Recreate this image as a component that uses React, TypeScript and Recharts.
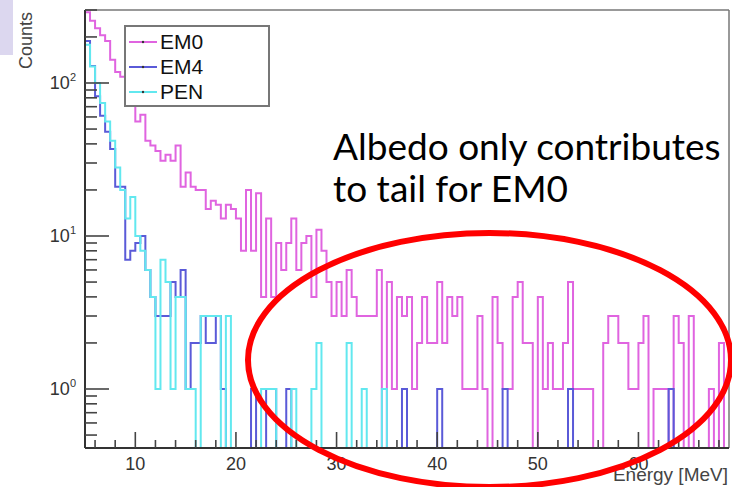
import React from 'react';
import { ComposedChart, Line, XAxis, YAxis, ReferenceLine, Legend } from 'recharts';

const W = 732;
const H = 487;
const X_MIN = 5;
const X_MAX = 69;
const BIN_WIDTH = 0.5;
const Y_MIN = 0.4115;
const Y_MAX = 300;
const FLOOR = 0.05;

// counts per 0.5 MeV bin, starting at 5 MeV
const em0Counts = [
  290, 255, 228, 205, 188, 142, 118, 110, 104, 85,
  56, 62, 42, 39, 36, 31, 34, 31, 39, 21,
  26, 21, 20, 20, 15, 17, 16, 13, 16, 15,
  13, 8, 20, 8, 19, 4, 13, 4, 9, 6,
  9, 13, 6, 9, 10, 4, 11, 8, 5, 3,
  5, 3, 6, 4, 3, 3, 3, 3, 6, 0,
  5, 1, 4, 3, 4, 1, 2, 4, 2, 2,
  5, 2, 4, 3, 4, 1, 1, 1, 3, 1,
  0, 4, 2, 1, 1, 4, 5, 2, 2, 0,
  4, 1, 2, 1, 1, 2, 5, 1, 1, 1,
  1, 0, 0, 2, 3, 3, 2, 2, 1, 1,
  2, 3, 0, 1, 1, 1, 0, 3, 2, 0,
  3, 0, 0, 0, 1, 0, 2, 0,
];

const em4Counts = [
  188, 129, 82, 61, 48, 37, 21, 21, 7, 8,
  9, 10, 6, 4, 3, 3, 3, 5, 4, 6,
  1, 2, 2, 3, 2, 2, 3, 1, 0, 0,
  0, 0, 0, 1, 0, 0, 1, 1, 0, 0,
  1, 0, 0, 0, 0, 0, 0, 0, 0, 0,
  0, 0, 0, 0, 0, 0, 0, 0, 0, 0,
  0, 0, 0, 1, 0, 0, 0, 0, 0, 0,
  1, 0, 0, 0, 0, 0, 0, 0, 0, 0,
  0, 0, 0, 1, 0, 0, 0, 0, 0, 0,
  0, 0, 0, 0, 0, 0, 1, 0, 0, 0,
  0, 0, 0, 0, 0, 0, 0, 0, 0, 0,
  0, 0, 0, 0, 0, 0, 1, 0, 0, 0,
  0, 0, 0, 0, 0, 0, 0, 0,
];

const penCounts = [
  178, 128, 100, 74, 56, 42, 28, 20, 13, 18,
  10, 8, 6, 4, 1, 7, 5, 1, 4, 4,
  1, 1, 0, 3, 3, 3, 3, 0, 3, 0,
  0, 0, 0, 0, 0, 1, 1, 1, 0, 0,
  0, 1, 0, 0, 0, 1, 2, 0, 0, 0,
  0, 0, 2, 0, 0, 1, 0, 0, 0, 1,
  0, 0, 0, 0, 0, 0, 0, 0, 0, 0,
  0, 0, 0, 0, 0, 0, 0, 0, 0, 0,
  0, 0, 0, 0, 0, 0, 0, 0, 0, 0,
  0, 0, 0, 0, 0, 0, 0, 0, 0, 0,
  0, 0, 0, 0, 0, 0, 0, 0, 0, 0,
  0, 0, 0, 0, 0, 0, 0, 0, 0, 0,
  0, 0, 0, 0, 0, 0, 0, 0,
];

const seriesKeys = ['em0', 'em4', 'pen'];
const seriesNames = ['EM0', 'EM4', 'PEN'];
const seriesColors = ['#e064e0', '#5a5ad8', '#62e8ef'];

const xTicks = [6, 8, 10, 12, 14, 16, 18, 20, 22, 24, 26, 28, 30, 32, 34, 36, 38, 40, 42, 44, 46, 48, 50, 52, 54, 56, 58, 60, 62, 64, 66, 68];
const xMajor = [10, 20, 30, 40, 50, 60];
const yTicks = [0.5, 0.6, 0.7, 0.8, 0.9, 1, 2, 3, 4, 5, 6, 7, 8, 9, 10, 20, 30, 40, 50, 60, 70, 80, 90, 100, 200, 300];
const yDecades = [1, 10, 100];
const yExponents = ['0', '1', '2'];

const annotationLines = ['Albedo only contributes', 'to tail for EM0'];
const xTitle = 'Energy [MeV]';
const yTitle = 'Counts';

const AXIS_FONT = '"Liberation Sans", Arial, Helvetica, sans-serif';

const toPlot = (v: number) => (v > 0 ? v : FLOOR);

const rows: any[] = em0Counts.map((_, i) => ({
  x: X_MIN + i * BIN_WIDTH,
  em0: toPlot(em0Counts[i]),
  em4: toPlot(em4Counts[i]),
  pen: toPlot(penCounts[i]),
}));
const lastIdx = em0Counts.length - 1;
rows.push({
  x: X_MAX,
  em0: toPlot(em0Counts[lastIdx]),
  em4: toPlot(em4Counts[lastIdx]),
  pen: toPlot(penCounts[lastIdx]),
});

const XTick = (props: any) => {
  const { x, y, payload } = props;
  const v = payload.value;
  const major = xMajor.includes(v);
  return (
    <g>
      <line x1={x} x2={x} y1={y} y2={y - (major ? 16 : 8)} stroke="#444" strokeWidth={1.6} />
      {major && (
        <text x={x} y={y + 22} textAnchor="middle" fontSize={18} fontFamily={AXIS_FONT} fill="#333">
          {v}
        </text>
      )}
    </g>
  );
};

const YTick = (props: any) => {
  const { x, y, payload } = props;
  const v = payload.value;
  const idx = yDecades.findIndex((d) => Math.abs(d - v) < 1e-9);
  const major = idx >= 0;
  return (
    <g>
      <line x1={x} x2={x + (major ? 24 : 12)} y1={y} y2={y} stroke="#444" strokeWidth={1.6} />
      {major && (
        <text x={x - 9} y={y + 6} textAnchor="end" fontSize={18} fontFamily={AXIS_FONT} fill="#333">
          10
          <tspan dy={-8} fontSize={11}>
            {yExponents[idx]}
          </tspan>
        </text>
      )}
    </g>
  );
};

const LegendBox = () => (
  <div
    style={{
      width: 146,
      height: 82,
      border: '2px solid #777',
      background: '#fff',
      boxSizing: 'border-box',
      position: 'relative',
      fontFamily: AXIS_FONT,
    }}
  >
    {seriesNames.map((n, i) => (
      <div
        key={n}
        style={{ position: 'absolute', left: 3, top: 4 + i * 25, height: 22, display: 'flex', alignItems: 'center' }}
      >
        <svg width={28} height={10} style={{ display: 'block' }}>
          <line x1={0} y1={5} x2={28} y2={5} stroke={seriesColors[i]} strokeWidth={2} />
          <circle cx={14} cy={5} r={1.2} fill="#333" />
        </svg>
        <span style={{ marginLeft: 3, fontSize: 21, color: '#111', lineHeight: '22px' }}>{n}</span>
      </div>
    ))}
  </div>
);

export default function App() {
  return (
    <div style={{ position: 'absolute', left: 0, top: 0, width: W, height: H, background: '#fff', overflow: 'hidden' }}>
      <div style={{ position: 'absolute', left: 0, top: 0, width: 13, height: 55, background: '#dcd7ef' }} />
      <ComposedChart width={W} height={H} data={rows} margin={{ top: 10, right: 3, bottom: 0, left: 0 }}>
        <XAxis
          dataKey="x"
          type="number"
          domain={[X_MIN, X_MAX]}
          ticks={xTicks}
          interval={0}
          allowDataOverflow
          height={39}
          tickSize={0}
          tickMargin={0}
          tickLine={false}
          axisLine={{ stroke: '#333', strokeWidth: 2 }}
          tick={<XTick />}
        />
        <YAxis
          type="number"
          scale="log"
          domain={[Y_MIN, Y_MAX]}
          allowDataOverflow
          ticks={yTicks}
          interval={0}
          width={85}
          tickSize={0}
          tickMargin={0}
          tickLine={false}
          axisLine={{ stroke: '#333', strokeWidth: 2 }}
          tick={<YTick />}
        />
        <ReferenceLine y={Y_MAX} stroke="#777" strokeWidth={1.5} />
        <ReferenceLine x={X_MAX} stroke="#777" strokeWidth={1.5} />
        {seriesKeys.map((k, i) => (
          <Line
            key={k}
            dataKey={k}
            name={seriesNames[i]}
            type="stepAfter"
            stroke={seriesColors[i]}
            strokeWidth={2}
            dot={false}
            activeDot={false}
            isAnimationActive={false}
          />
        ))}
        <Legend
          layout="vertical"
          align="center"
          verticalAlign="middle"
          content={() => <LegendBox />}
          wrapperStyle={{ left: 124, top: 25, width: 146, height: 82 }}
        />
      </ComposedChart>
      <svg width={W} height={H} style={{ position: 'absolute', left: 0, top: 0, pointerEvents: 'none' }}>
        <text transform="rotate(-90)" x={-12} y={32} textAnchor="end" fontSize={18} fontFamily={AXIS_FONT} fill="#444">
          {yTitle}
        </text>
        <text x={728} y={481} textAnchor="end" fontSize={19} fontFamily={AXIS_FONT} fill="#444">
          {xTitle}
        </text>
        {annotationLines.map((t, i) => (
          <text key={t} x={333} y={160 + i * 42} fontSize={37} fontFamily="Lato, sans-serif" fill="#000">
            {t}
          </text>
        ))}
        <ellipse cx={489.5} cy={360} rx={241.5} ry={127} fill="none" stroke="#ff0000" strokeWidth={6} />
      </svg>
    </div>
  );
}
